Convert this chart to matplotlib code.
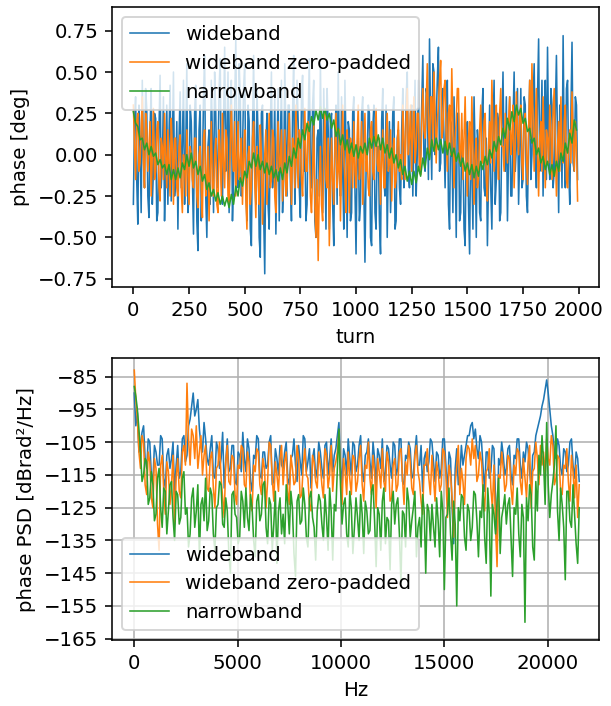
import numpy as np
import matplotlib
matplotlib.use("Agg")
import matplotlib.pyplot as plt

# phase per turn in hundredths of a degree; wideband traces every 5 turns,
# narrowband every 10 turns
wideband_phase = [
    -30, 20, 35, -15, -42, 30, 10, -35, 45, 0, -20, 40, 28, -25, -38, 15, 40, -30, -10, 25,
    22, -40, -35, 15, 48, -20, -5, 35, -40, -10, 30, -30, 12, 42, -28, 5, 50, -25, -15, 20,
    -45, 10, 38, -20, 5, 45, -30, 0, 55, -35, -25, 30, 20, -15, -48, 25, 42, -40, -58, 15,
    30, -40, -12, 35, 60, -25, -50, 5, 15, -30, 45, 10, -35, 50, 25, -20, -5, 40, 58, -15,
    -30, 20, 65, -10, 10, 50, -35, 25, 45, -40, -15, 30, 70, 0, -20, 55, 35, -25, 0, 40,
    55, -20, -40, 30, 20, -45, -55, 15, 60, -10, -30, 40, 10, -50, -62, 25, 30, -35, -72, 5,
    25, -30, -45, 15, 50, -20, -10, 35, -48, 0, 40, -40, 5, 45, -35, -15, 55, 10, -25, 30,
    30, -15, -40, 25, 60, -30, -5, 45, 20, -20, -38, 35, 48, -10, 10, -40, -30, 20, 58, -5,
    -20, 30, 45, -40, -50, 10, 15, -25, 55, 0, -35, 40, 0, -45, 40, 15, -45, 20, 25, -30,
    -55, 10, 30, -30, 50, 0, -25, 35, -10, -45, 45, 5, -50, 20, 15, -40, -35, 25, 35, -20,
    -60, 0, 10, -40, -30, 25, 35, -20, -65, -10, -5, 30, 25, -50, -55, 15, 30, -35, -45, 5,
    5, -40, -60, 20, 40, -15, -25, 30, -50, -5, 20, -35, -10, 25, 35, -45, -40, 10, 15, -20,
    -30, 15, 40, -20, -5, 35, 50, -10, -20, 25, 30, -25, 10, 45, -25, 0, 45, -10, 0, 30,
    60, -5, -10, 40, 35, -15, 70, 20, -15, 55, 50, 0, 20, 45, 65, -10, -5, 35, 40, 10,
    -20, 30, 45, -30, -45, 20, 10, -35, 35, 0, -50, 25, 25, -40, -35, 15, 5, -45, -55, 10,
    20, -30, -60, 10, -10, -45, 35, 0, -50, 15, 5, -35, -40, 25, 40, -20, -25, 10, -55, -15,
    30, -20, -45, 10, 45, -30, -15, 25, 20, -40, -35, 15, 50, -5, -10, 35, -40, 0, 35, -25,
    -25, 20, 50, -10, 5, 40, -30, 0, 40, -20, -15, 35, 30, -25, -35, 10, 45, -15, 0, 30,
    55, 0, -20, 35, 70, -10, 10, 45, -25, 20, 45, -15, 65, 5, -15, 40, 30, -20, -10, 25,
    60, 5, -35, 30, 20, -20, 72, 0, -20, 40, 45, -10, -30, 25, 68, -5, -10, 35, 30, -15,
]

zeropad_phase = [
    30, 5, -15, 20, 25, -10, -5, 15, 35, -5, -20, 25, 15, -10, 5, 20, -25, 0, 28, -15,
    -10, 15, 20, -20, -28, 10, 5, -15, 25, 0, -20, 15, -5, -25, 22, 5, -30, 10, 10, -20,
    -25, 5, 12, -20, -35, 0, -5, -25, 15, -10, -30, 5, 0, -15, -20, 10, 10, -25, -32, 0,
    5, -20, -38, 10, 15, -25, -15, 5, -40, -10, 20, -20, -25, 0, 10, -30, -35, 15, 0, -25,
    25, -5, -20, 15, 10, -25, -30, 5, 30, 0, -10, 20, -25, -5, 20, -15, -5, 10, -30, 0,
    15, -25, -45, 0, 5, -30, -20, 10, 20, -15, -38, 5, -10, -30, 18, 0, -42, -15, 0, 15,
    -30, 0, 25, -20, -15, 15, 10, -25, -35, 0, 20, -10, -5, 15, -28, -10, 15, -25, -20, 5,
    25, -5, -30, 10, 5, -20, 30, 0, -20, 15, 10, -15, -25, 5, 28, -10, -10, 20, 15, -25,
    -35, -10, 20, -30, -50, -15, -64, -20, 5, -30, -40, 0, 25, -15, -20, 10, -55, -25, 10, -15,
    -30, 5, 25, -20, -10, 15, -40, -5, 30, 0, -15, -35, 15, 0, -35, 10, 5, -20, 20, -10,
    -20, 10, 30, -15, -5, 20, -30, 0, 25, -10, 0, -20, -25, 15, 20, -10, -15, 5, 28, -5,
    -10, 10, -30, -5, 15, -20, -20, 10, 25, -10, -5, 15, -28, 0, 10, -20, -15, 5, 20, -10,
    0, -15, 30, 10, -15, 20, 40, 0, 10, 30, -10, 15, 35, -5, 5, 25, 25, -10, -12, 20,
    40, 15, 10, 30, 55, 20, 0, 35, 35, 5, 50, 25, -5, 20, 30, 45, 57, 10, 15, 40,
    45, 10, -10, 25, 30, 0, 52, 20, -20, 10, 20, 40, 40, -5, 0, 25, -15, 10, 35, -5,
    -25, 10, 20, -15, 35, 5, -30, 0, 10, -20, -15, 15, 30, -5, -5, 20, 25, -15, -28, 5,
    20, -5, 45, 15, -10, 20, 30, 0, -15, 25, 40, 5, 5, -10, 25, 10, -5, 20, 35, 0,
    10, 30, -20, 5, 38, 15, 0, 25, 30, -5, -15, 20, 25, 0, -18, 15, 45, 10, 55, 20,
    -10, 20, 40, 0, -25, 10, 20, -10, 35, 5, -20, 15, 10, -5, 30, 15, -15, 25, 40, 5,
    -25, 5, 20, -10, 35, 0, -5, 20, 30, -15, -20, 10, 15, -5, 38, 10, -10, 20, 5, -28,
]

narrow_phase = [
    26, 19, 17, 9, 10, 3, 7, 0, 5, -1,
    1, -6, -3, -8, -6, -12, -6, -15, -9, -15,
    -8, -14, -5, -9, 0, -7, 1, -8, -4, -12,
    -7, -16, -12, -21, -17, -25, -21, -28, -23, -30,
    -25, -31, -26, -32, -24, -30, -19, -25, -14, -19,
    -10, -14, -4, -8, 1, -7, 0, -9, -4, -11,
    -5, -12, -7, -14, -9, -16, -8, -15, -5, -11,
    -1, -7, 4, -2, 10, 4, 15, 9, 19, 14,
    23, 18, 27, 21, 29, 22, 28, 21, 25, 16,
    21, 11, 16, 6, 12, 3, 9, 1, 7, -1,
    6, -2, 5, 1, 7, 0, 10, 4, 11, 5,
    12, 3, 10, 1, 6, -2, 4, -5, 0, -8,
    -3, -12, -7, -16, -10, -18, -10, -17, -7, -13,
    -2, -8, 4, -3, 9, 2, 10, 3, 9, 1,
    8, 0, 7, -1, 4, -4, 1, -7, -2, -10,
    -5, -12, -6, -14, -7, -13, -4, -9, -1, -6,
    3, -2, 8, 2, 11, 6, 16, 10, 22, 15,
    26, 20, 30, 24, 28, 19, 22, 14, 16, 7,
    10, 0, 4, -5, -1, -9, -4, -12, -6, -13,
    -4, -10, 1, -4, 7, 1, 13, 7, 21, 15,
]

# phase PSD in dB, one value every 75 Hz
wideband_psd = [
    -90, -100, -96, -108, -106, -102, -100, -110, -113, -104, -105, -115, -117, -106, -108, -112, -112, -103, -104, -116, -119, -109, -107, -113,
    -110, -105, -121, -112, -106, -116, -114, -104, -103, -111, -109, -100, -98, -94, -90, -97, -95, -92, -101, -106, -108, -99, -104, -110,
    -112, -107, -103, -115, -116, -105, -107, -113, -110, -102, -119, -111, -104, -114, -113, -106, -106, -117, -118, -108, -109, -114, -102, -110,
    -114, -104, -107, -117, -120, -109, -110, -103, -104, -115, -116, -108, -108, -113, -112, -105, -103, -118, -117, -107, -110, -115, -106, -112,
    -113, -108, -105, -116, -118, -110, -109, -104, -112, -117, -106, -111, -115, -103, -104, -114, -111, -107, -119, -110, -107, -116, -113, -105,
    -108, -113, -116, -106, -105, -115, -110, -104, -114, -109, -107, -103, -99, -112, -118, -107, -109, -115, -104, -110, -115, -105, -106, -114,
    -112, -106, -103, -114, -117, -109, -108, -104, -111, -116, -105, -110, -119, -107, -109, -113, -104, -117, -114, -106, -107, -112, -116, -105,
    -106, -115, -113, -104, -104, -117, -118, -109, -110, -105, -107, -116, -115, -108, -103, -112, -112, -106, -120, -110, -108, -114, -111, -104,
    -105, -111, -117, -108, -109, -116, -113, -104, -104, -112, -121, -108, -110, -125, -136, -113, -107, -118, -115, -106, -112, -109, -106, -103,
    -103, -100, -99, -104, -101, -107, -110, -103, -105, -113, -120, -108, -108, -116, -114, -106, -107, -122, -139, -110, -112, -105, -109, -115,
    -113, -107, -106, -115, -118, -109, -110, -104, -104, -112, -116, -108, -111, -105, -107, -114, -119, -109, -108, -103, -101, -99, -97, -94,
    -92, -89, -86, -90, -95, -100, -103, -108, -110, -104, -106, -113, -115, -107, -108, -114, -112, -105, -104, -112, -116, -108, -110, -117,
]

zeropad_psd = [
    -83, -92, -98, -108, -113, -103, -105, -118, -121, -108, -111, -122, -125, -110, -113, -130, -138, -112, -109, -120, -127, -111, -114, -124,
    -118, -109, -130, -116, -110, -120, -122, -108, -106, -112, -87, -104, -112, -101, -103, -110, -100, -113, -108, -103, -115, -109, -106, -119,
    -120, -110, -108, -119, -125, -113, -112, -105, -116, -122, -128, -111, -106, -117, -118, -109, -110, -121, -124, -112, -113, -106, -107, -118,
    -119, -108, -111, -124, -126, -112, -114, -107, -108, -118, -121, -110, -113, -125, -117, -105, -106, -116, -123, -111, -115, -120, -110, -106,
    -118, -111, -108, -120, -124, -109, -113, -118, -117, -106, -110, -122, -121, -112, -107, -115, -116, -124, -126, -109, -111, -117, -119, -108,
    -112, -118, -122, -107, -109, -119, -115, -106, -120, -113, -111, -108, -102, -115, -124, -110, -114, -121, -108, -116, -121, -109, -110, -120,
    -117, -110, -106, -118, -123, -112, -113, -105, -116, -121, -109, -114, -125, -110, -114, -119, -107, -117, -120, -108, -111, -123, -122, -112,
    -110, -120, -118, -108, -107, -116, -124, -111, -115, -106, -111, -119, -121, -109, -106, -114, -117, -123, -127, -112, -112, -107, -116, -121,
    -109, -116, -123, -111, -114, -120, -118, -107, -108, -115, -128, -112, -115, -122, -134, -118, -112, -106, -121, -113, -117, -124, -110, -106,
    -107, -112, -104, -110, -106, -117, -115, -108, -111, -121, -126, -114, -113, -107, -119, -125, -112, -130, -143, -115, -116, -108, -113, -120,
    -118, -109, -110, -119, -124, -112, -115, -107, -108, -117, -121, -110, -116, -122, -111, -106, -125, -114, -113, -105, -110, -118, -106, -112,
    -108, -115, -104, -110, -112, -103, -106, -118, -116, -109, -110, -120, -121, -112, -113, -107, -117, -123, -109, -114, -122, -112, -128, -118,
]

narrow_psd = [
    -88, -91, -95, -101, -108, -117, -115, -110, -111, -124, -122, -114, -118, -129, -127, -116, -113, -125, -131, -119, -120, -133, -126, -118,
    -117, -128, -135, -120, -121, -130, -128, -116, -114, -127, -125, -137, -133, -122, -119, -131, -126, -118, -140, -124, -122, -129, -116, -132,
    -129, -119, -121, -133, -138, -125, -124, -117, -118, -130, -131, -122, -126, -139, -145, -121, -120, -127, -128, -136, -134, -120, -123, -131,
    -119, -128, -132, -121, -125, -135, -140, -123, -121, -129, -127, -118, -117, -131, -136, -122, -124, -138, -130, -120, -142, -126, -122, -133,
    -127, -136, -118, -124, -133, -120, -125, -139, -146, -123, -121, -130, -129, -119, -124, -134, -137, -122, -120, -128, -131, -141, -126, -121,
    -123, -130, -135, -121, -128, -138, -119, -126, -141, -124, -126, -113, -101, -118, -130, -124, -122, -133, -137, -120, -125, -139, -131, -122,
    -128, -135, -121, -127, -139, -123, -126, -133, -132, -120, -118, -129, -143, -125, -127, -138, -123, -119, -136, -128, -129, -144, -124, -120,
    -130, -124, -122, -133, -148, -126, -127, -137, -119, -123, -134, -129, -125, -120, -140, -131, -128, -137, -121, -126, -145, -124, -126, -135,
    -124, -131, -137, -122, -129, -140, -120, -126, -150, -128, -127, -119, -133, -141, -123, -130, -155, -125, -129, -121, -122, -134, -138, -124,
    -126, -135, -131, -120, -121, -129, -140, -126, -128, -118, -134, -142, -119, -127, -152, -124, -127, -133, -123, -116, -139, -128, -125, -121,
    -130, -124, -122, -134, -146, -125, -127, -119, -133, -140, -124, -128, -160, -122, -129, -118, -121, -137, -141, -117, -126, -109, -115, -103,
    -111, -124, -99, -118, -128, -121, -117, -112, -100, -126, -135, -119, -124, -131, -147, -120, -120, -129, -131, -118, -127, -136, -142, -125,
]

labels = ["wideband", "wideband zero-padded", "narrowband"]
lw = 0.8

fig = plt.figure(figsize=(611 / 142, 706 / 142), dpi=142)
ax1 = fig.add_axes([0.1833, 0.593, 0.7970, 0.3966])
ax2 = fig.add_axes([0.1833, 0.0935, 0.7970, 0.3994])

phase_sets = [(wideband_phase, 5), (zeropad_phase, 5), (narrow_phase, 10)]
for (vals, step), lab in zip(phase_sets, labels):
    t = np.arange(len(vals)) * step
    ax1.plot(t, np.array(vals) / 100.0, lw=lw, label=lab)
ax1.set_xlim(-96, 2091)
ax1.set_ylim(-0.802, 0.891)
ax1.set_xticks(np.arange(0, 2001, 250))
ax1.set_yticks([-0.75, -0.5, -0.25, 0, 0.25, 0.5, 0.75])
ax1.set_xlabel("turn")
ax1.set_ylabel("phase [deg]")
ax1.legend(loc="upper left")

for vals, lab in zip([wideband_psd, zeropad_psd, narrow_psd], labels):
    f = np.arange(len(vals)) * 75
    ax2.plot(f, vals, lw=lw, label=lab)
ax2.set_xlim(-1078, 22480)
ax2.set_ylim(-165.4, -79.3)
ax2.set_yticks(np.arange(-165, -84, 10))
ax2.set_xticks([0, 5000, 10000, 15000, 20000])
ax2.grid(True)
ax2.set_xlabel("Hz")
ax2.set_ylabel("phase PSD [dBrad²/Hz]")
ax2.legend(loc="lower left")

fig.savefig("out.png", dpi=142)
